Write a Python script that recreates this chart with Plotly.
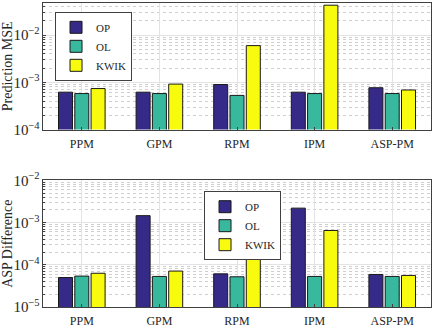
import plotly.graph_objects as go
from plotly.subplots import make_subplots

categories = ['PPM', 'GPM', 'RPM', 'IPM', 'ASP-PM']
methods = ['OP', 'OL', 'KWIK']
colors = ['#352a87', '#38b99e', '#f9fb0e']

# prediction MSE
mse_op = [6.2e-4, 6.2e-4, 9.0e-4, 6.2e-4, 7.7e-4]
mse_ol = [5.8e-4, 5.8e-4, 5.3e-4, 5.8e-4, 5.8e-4]
mse_kwik = [7.4e-4, 9.2e-4, 6.0e-3, 4.3e-2, 6.9e-4]

# ASP difference
asp_op = [5.0e-5, 1.46e-3, 6.1e-5, 2.2e-3, 5.9e-5]
asp_ol = [5.4e-5, 5.3e-5, 5.2e-5, 5.3e-5, 5.3e-5]
asp_kwik = [6.3e-5, 7.1e-5, 1.49e-4, 6.5e-4, 5.6e-5]

FONT = 'Liberation Serif'

fig = make_subplots(rows=2, cols=1, vertical_spacing=0.167)

for name, vals, col in zip(methods, [mse_op, mse_ol, mse_kwik], colors):
    fig.add_trace(go.Bar(x=categories, y=vals, name=name, marker_color=col,
                         marker_line=dict(color='#1a1a1a', width=1),
                         legend='legend'), row=1, col=1)
for name, vals, col in zip(methods, [asp_op, asp_ol, asp_kwik], colors):
    fig.add_trace(go.Bar(x=categories, y=vals, name=name, marker_color=col,
                         marker_line=dict(color='#1a1a1a', width=1),
                         legend='legend2'), row=2, col=1)

xaxis_style = dict(showline=True, linecolor='#404040', mirror=True,
                   showgrid=True, gridcolor='#e3e3e3', ticks='inside',
                   ticklen=3, tickcolor='#404040', automargin=False,
                   ticklabelstandoff=3,
                   tickfont=dict(family=FONT, size=12, color='#262626'))
yaxis_style = dict(type='log', dtick=1, exponentformat='power',
                   showline=True, linecolor='#404040', mirror=True,
                   showgrid=True, gridcolor='#e3e3e3', ticks='inside',
                   ticklen=3, tickcolor='#404040', automargin=False,
                   tickfont=dict(family=FONT, size=12, color='#262626'),
                   minor=dict(showgrid=True, gridcolor='#cfcfcf', griddash='dot',
                              ticks='inside', ticklen=2, tickcolor='#404040'))

fig.update_xaxes(**xaxis_style)
fig.update_yaxes(**yaxis_style)
fig.update_yaxes(range=[-4, -1.32], row=1, col=1,
                 title=dict(text='Prediction MSE', font=dict(family=FONT, size=14, color='#262626'), standoff=4))
fig.update_yaxes(range=[-5, -2], row=2, col=1,
                 title=dict(text='ASP Difference', font=dict(family=FONT, size=14, color='#262626'), standoff=4))

legend_style = dict(bgcolor='white', bordercolor='#404040', borderwidth=1,
                    font=dict(family=FONT, size=11, color='#262626'),
                    xanchor='left', yanchor='top', tracegroupgap=0,
                    itemwidth=30)

fig.update_layout(
    width=436, height=329,
    margin=dict(l=43, r=5, t=3, b=22),
    plot_bgcolor='white', paper_bgcolor='white',
    barmode='group', bargap=0.37, bargroupgap=0.14,
    legend=dict(x=0.031, y=0.971, **legend_style),
    legend2=dict(x=0.415, y=0.381, **legend_style),
    font=dict(family=FONT),
)

# drop the default page margin so the figure sits at the window's corner
fig.write_html('out.html', config={'displayModeBar': False},
               post_script="document.body.style.margin='0';document.body.style.overflow='hidden';")
